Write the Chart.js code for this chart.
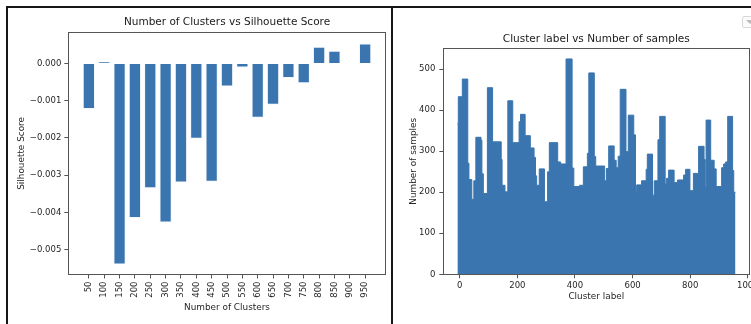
<!DOCTYPE html>
<html>
<head>
<meta charset="utf-8">
<script src="https://cdn.jsdelivr.net/npm/chart.js@4.4.1/dist/chart.umd.min.js"></script>
<style>
  html, body { margin: 0; padding: 0; background: #fff; width: 751px; height: 324px; overflow: hidden; }
  .rule { position: absolute; background: #161616; }
  .panel { position: absolute; top: 8px; height: 316px; }
  #left { left: 8px; width: 383px; }
  #right { left: 393px; width: 358px; }
  .menu { position: absolute; left: 742px; top: 16px; width: 14px; height: 10px; border: 1px solid #d8d8d8; border-radius: 2px; background: #fbfbfb; }
  .menu:after { content: ""; position: absolute; left: 3px; top: 3px; border-left: 4px solid transparent; border-right: 4px solid transparent; border-top: 4px solid #bbb; }
</style>
</head>
<body>
<div class="rule" style="left:6px; top:6px; width:745px; height:2px;"></div>
<div class="rule" style="left:6px; top:6px; width:2px; height:318px;"></div>
<div class="rule" style="left:391px; top:6px; width:2px; height:318px;"></div>
<div class="panel" id="left"><canvas id="silhouette" width="383" height="316"></canvas></div>
<div class="panel" id="right"><canvas id="samples" width="358" height="316"></canvas></div>
<div class="menu"></div>
<script>
// silhouette score per number of clusters
const clusters = ['50', '100', '150', '200', '250', '300', '350', '400', '450', '500',
                  '550', '600', '650', '700', '750', '800', '850', '900', '950'];
const scores = [-0.00122, 0.00005, -0.00540, -0.00415, -0.00335, -0.00427, -0.00320, -0.00202, -0.00318, -0.00062,
                -0.00011, -0.00146, -0.00111, -0.00039, -0.00053, 0.00045, 0.00034, -0.00002, 0.00054];
const scoreTicks = [0, -0.001, -0.002, -0.003, -0.004, -0.005];

// samples per cluster label (value holds until the next label)
const clusterLabel = [-8, -5, 9, 28, 32, 42, 49, 56, 74, 77, 82, 96, 114, 144, 147, 157, 167, 184, 206, 211,
                      227, 245, 258, 263, 267, 276, 294, 305, 311, 340, 350, 369, 390, 396, 416, 429, 443, 448, 467, 472,
                      503, 509, 517, 536, 543, 550, 557, 577, 585, 604, 610, 614, 631, 647, 651, 669, 675, 688, 694, 713,
                      718, 725, 744, 756, 777, 784, 799, 811, 829, 848, 852, 855, 871, 883, 890, 909, 916, 923, 930, 947,
                      951, 957];
const sampleCount = [367, 433, 476, 271, 231, 183, 228, 334, 327, 245, 197, 455, 323, 280, 217, 201, 423, 321, 372, 390,
                     338, 308, 285, 240, 217, 257, 177, 250, 321, 274, 269, 525, 259, 214, 217, 262, 295, 491, 287, 264,
                     228, 258, 313, 278, 260, 288, 451, 299, 388, 340, 201, 218, 228, 256, 293, 193, 228, 328, 385, 221,
                     234, 254, 224, 230, 242, 256, 204, 246, 312, 280, 212, 376, 278, 257, 214, 260, 269, 274, 385, 253,
                     200, 200];
const labelTicks = [0, 200, 400, 600, 800, 1000];
const countTicks = [0, 100, 200, 300, 400, 500];

const BLUE = '#3a75af';
const SPINE = '#555';

Chart.defaults.font.family = "'DejaVu Sans', sans-serif";
Chart.defaults.color = '#262626';

// frame around the plot area, like matplotlib spines
const boxOutline = {
  id: 'boxOutline',
  afterDraw(chart) {
    const { ctx, chartArea: a } = chart;
    ctx.save();
    ctx.strokeStyle = SPINE;
    ctx.lineWidth = 1;
    ctx.strokeRect(Math.round(a.left) + 0.5, Math.round(a.top) + 0.5,
                   Math.round(a.right - a.left), Math.round(a.bottom - a.top));
    ctx.restore();
  }
};

function fixSize(w, h) {
  return function (scale) {
    if (w !== undefined) scale.width = w;
    if (h !== undefined) scale.height = h;
    scale.paddingLeft = scale.paddingRight = scale.paddingTop = scale.paddingBottom = 0;
  };
}

function useTicks(values) {
  return function (scale) {
    scale.ticks = values.map(v => ({ value: v }));
  };
}

const tickFont = { size: 8.5 };
const labelFont = { size: 8.9 };
const titleFont = { size: 10.5, weight: 'normal' };

new Chart(document.getElementById('silhouette'), {
  type: 'bar',
  data: {
    datasets: [{
      data: scores.map((s, i) => ({ x: i, y: s })),
      backgroundColor: BLUE,
      borderColor: 'rgba(235, 242, 250, 0.6)',
      borderWidth: 1,
      categoryPercentage: 1,
      barPercentage: 0.8
    }]
  },
  options: {
    responsive: false,
    devicePixelRatio: 1,
    animation: false,
    layout: { padding: { left: 4, right: 5.3, top: 0, bottom: 7 } },
    plugins: {
      legend: { display: false },
      tooltip: { enabled: false },
      title: {
        display: true,
        text: 'Number of Clusters vs Silhouette Score',
        fullSize: false,
        font: titleFont,
        color: '#1a1a1a',
        padding: { top: 8.4, bottom: 3.3 }
      }
    },
    scales: {
      x: {
        type: 'linear',
        bounds: 'data',
        offset: false,
        min: -1.34,
        max: 19.34,
        afterBuildTicks: useTicks(clusters.map((c, i) => i)),
        afterFit: fixSize(undefined, 42.5),
        grid: { offset: false, drawOnChartArea: false, drawTicks: true, tickLength: 4, color: SPINE },
        border: { display: false },
        ticks: {
          autoSkip: false,
          minRotation: 90,
          maxRotation: 90,
          padding: 3,
          font: tickFont,
          callback: (v, i) => clusters[i]
        },
        title: { display: true, text: 'Number of Clusters', font: labelFont, padding: { top: 4, bottom: 4 } }
      },
      y: {
        type: 'linear',
        bounds: 'data',
        min: -0.00567,
        max: 0.000838,
        afterBuildTicks: useTicks(scoreTicks),
        afterFit: fixSize(56.3, undefined),
        grid: { drawOnChartArea: false, drawTicks: true, tickLength: 4, color: SPINE },
        border: { display: false },
        ticks: {
          padding: 3,
          font: tickFont,
          callback: v => v.toFixed(3).replace('-', '\u2212')
        },
        title: { display: true, text: 'Silhouette Score', font: labelFont, padding: { top: 4, bottom: 4 } }
      }
    }
  },
  plugins: [boxOutline]
});

new Chart(document.getElementById('samples'), {
  type: 'line',
  data: {
    datasets: [{
      data: clusterLabel.map((c, i) => ({ x: c, y: sampleCount[i] })),
      stepped: true,
      fill: 'origin',
      backgroundColor: BLUE,
      borderColor: BLUE,
      borderWidth: 1,
      pointRadius: 0
    }]
  },
  options: {
    responsive: false,
    devicePixelRatio: 1,
    animation: false,
    layout: { padding: { left: 11.5, right: 1.7, top: 0, bottom: 17.7 } },
    plugins: {
      legend: { display: false },
      tooltip: { enabled: false },
      title: {
        display: true,
        text: 'Cluster label vs Number of samples',
        fullSize: false,
        font: titleFont,
        color: '#1a1a1a',
        padding: { top: 25, bottom: 2.7 }
      }
    },
    scales: {
      x: {
        type: 'linear',
        bounds: 'data',
        min: -57,
        max: 1005,
        afterBuildTicks: useTicks(labelTicks),
        afterFit: fixSize(undefined, 32),
        grid: { drawOnChartArea: false, drawTicks: true, tickLength: 4, color: SPINE },
        border: { display: false },
        ticks: { autoSkip: false, maxRotation: 0, padding: 2, font: tickFont, callback: v => String(v) },
        title: { display: true, text: 'Cluster label', font: labelFont, padding: { top: 4, bottom: 4 } }
      },
      y: {
        type: 'linear',
        bounds: 'data',
        min: 0,
        max: 551,
        afterBuildTicks: useTicks(countTicks),
        afterFit: fixSize(38.8, undefined),
        grid: { drawOnChartArea: false, drawTicks: true, tickLength: 4, color: SPINE },
        border: { display: false },
        ticks: { padding: 4, font: tickFont, callback: v => String(v) },
        title: { display: true, text: 'Number of samples', font: labelFont, padding: { top: 4, bottom: 4 } }
      }
    }
  },
  plugins: [boxOutline]
});
</script>
</body>
</html>
